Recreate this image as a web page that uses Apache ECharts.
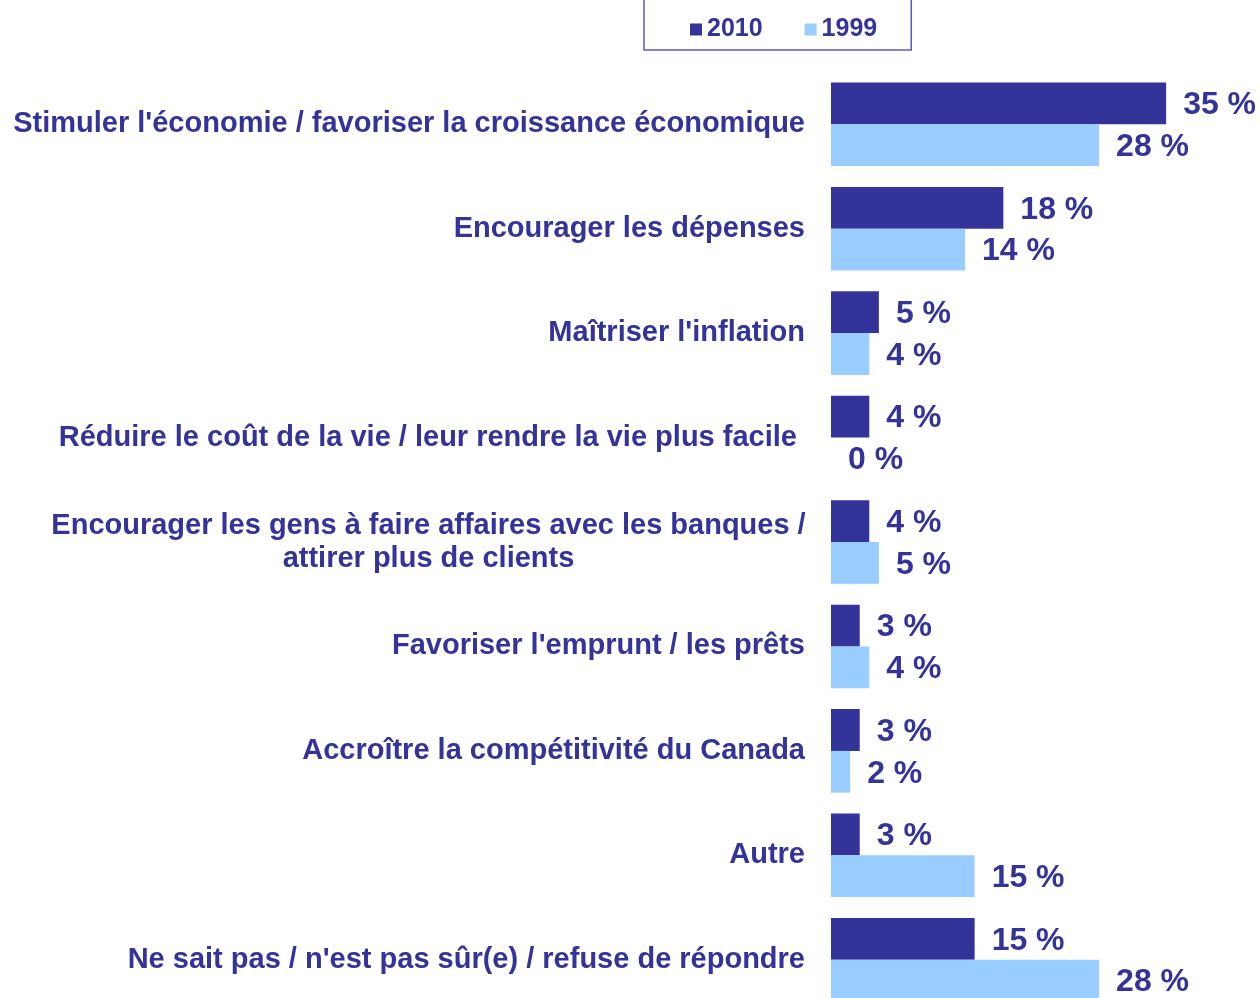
<!DOCTYPE html>
<html>
<head>
<meta charset="utf-8">
<title>Objectifs</title>
<script src="https://cdn.jsdelivr.net/npm/echarts@6/dist/echarts.min.js"></script>
<style>
  html, body { margin: 0; padding: 0; background: #fff; }
  #chart { width: 1260px; height: 998px; }
</style>
</head>
<body>
<div id="chart"></div>
<script>
  // categories, top to bottom
  var categories = [
    "Stimuler l'économie / favoriser la croissance économique",
    "Encourager les dépenses",
    "Maîtriser l'inflation",
    "Réduire le coût de la vie / leur rendre la vie plus facile ",
    "Encourager les gens à faire affaires avec les banques /\nattirer plus de clients",
    "Favoriser l'emprunt / les prêts",
    "Accroître la compétitivité du Canada",
    "Autre",
    "Ne sait pas / n'est pas sûr(e) / refuse de répondre"
  ];
  var values2010 = [35, 18, 5, 4, 4, 3, 3, 3, 15];
  var values1999 = [28, 14, 4, 0, 5, 4, 2, 15, 28];

  var navy = '#333399';
  var font = '"Liberation Sans", Arial, sans-serif';

  var chart = echarts.init(document.getElementById('chart'));

  // value label shared by both series
  var valueLabel = {
    show: true,
    position: 'right',
    distance: 17,
    offset: [0, 2],
    formatter: '{c} %',
    color: navy,
    fontSize: 32,
    fontWeight: 'bold',
    fontFamily: font
  };

  chart.setOption({
    animation: false,
    legend: {
      data: ['2010', '1999'],
      left: 644,
      top: -12,
      padding: [29, 34, 8, 46],
      borderColor: '#5c5cc0',
      borderWidth: 1.5,
      icon: 'rect',
      itemWidth: 12,
      itemHeight: 12,
      itemGap: 42,
      textStyle: {color: navy, fontSize: 25, fontWeight: 'bold', fontFamily: font}
    },
    grid: {left: 831, top: 72, width: 383, height: 940, outerBoundsMode: 'none'},
    xAxis: {
      type: 'value',
      min: 0,
      max: 40,
      show: false
    },
    yAxis: {
      type: 'category',
      inverse: true,
      data: categories,
      axisLine: {show: false},
      axisTick: {show: false},
      axisLabel: {
        margin: 26,
        color: navy,
        fontSize: 29,
        fontWeight: 'bold',
        fontFamily: font,
        lineHeight: 33,
        formatter: function (value) {
          if (value.indexOf('\n') < 0) return value;
          // multi-line label: centred lines, block right-aligned
          return value.split('\n').map(function (s) { return '{c|' + s + '}'; }).join('\n');
        },
        rich: {
          c: {width: 753, align: 'center', color: navy, fontSize: 29, fontWeight: 'bold', fontFamily: font, lineHeight: 33}
        }
      }
    },
    series: [
      {
        name: '2010',
        type: 'bar',
        data: values2010,
        itemStyle: {color: navy},
        barGap: '0%',
        barCategoryGap: '20%',
        label: valueLabel
      },
      {
        name: '1999',
        type: 'bar',
        data: values1999,
        itemStyle: {color: '#99ccff'},
        label: valueLabel
      }
    ]
  });
</script>
</body>
</html>
